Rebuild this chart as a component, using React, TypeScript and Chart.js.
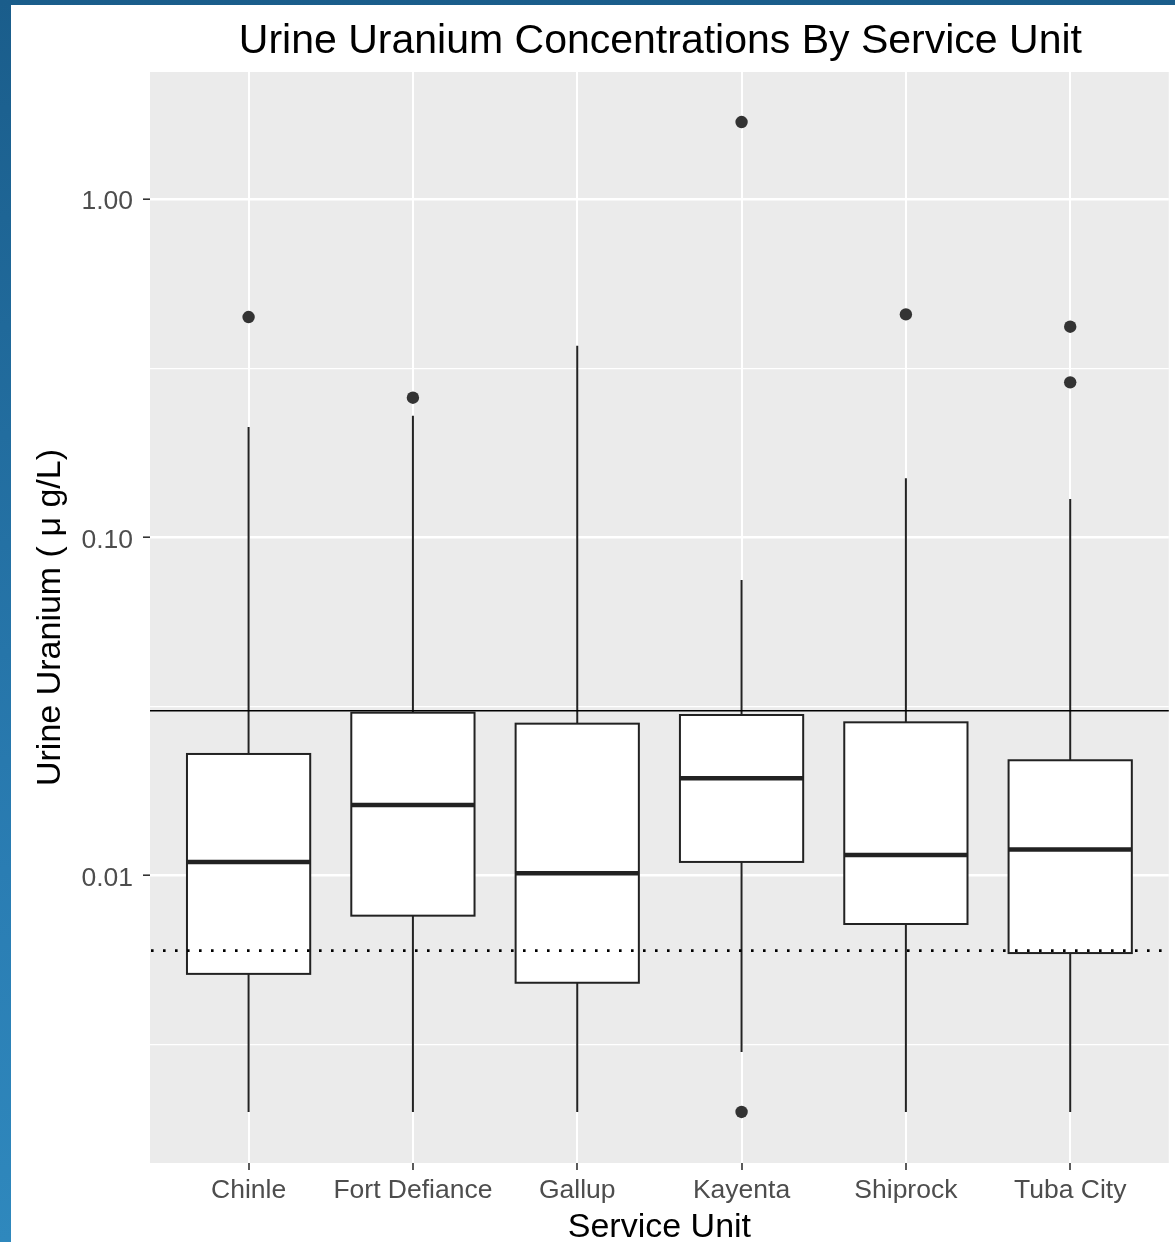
import React, { useEffect, useRef } from "react";
import { Chart, registerables } from "chart.js";

Chart.register(...registerables);

// ---- data ----
const categories = ["Chinle", "Fort Defiance", "Gallup", "Kayenta", "Shiprock", "Tuba City"];
const whiskerLow = [0.002, 0.002, 0.002, 0.00301, 0.002, 0.002];
const q1 = [0.00512, 0.00761, 0.00482, 0.01097, 0.00719, 0.0059];
const medians = [0.01097, 0.01617, 0.01016, 0.01939, 0.0115, 0.01193];
const q3 = [0.02288, 0.0303, 0.02812, 0.02983, 0.02838, 0.02192];
const whiskerHigh = [0.2118, 0.2288, 0.3685, 0.0748, 0.1494, 0.1298];
const outliers: number[][] = [[0.448], [0.2586], [], [1.689, 0.002], [0.456], [0.4194, 0.2872]];
const refSolid = 0.0307;
const refDotted = 0.006;

const yMajorTicks = [0.01, 0.1, 1];
const yMajorLabels = ["0.01", "0.10", "1.00"];
const yMinorTicks = [0.00316, 0.0316, 0.316];
const yMin = 0.001413;
const yMax = 2.375;

const title = "Urine Uranium Concentrations By Service Unit";
const xTitle = "Service Unit";
const yTitle = "Urine Uranium ( \u03bc g/L)";

const FONT = '"Liberation Sans", Arial, sans-serif';
const BOX_WIDTH = 0.75;

const outlierPoints = outliers.flatMap((vals, i) => vals.map((v) => ({ x: i + 1, y: v })));

const boxPlugin = {
  id: "boxPlugin",
  beforeDraw(chart: any) {
    const { ctx, chartArea } = chart;
    ctx.save();
    ctx.fillStyle = "#EBEBEB";
    ctx.fillRect(chartArea.left, chartArea.top, chartArea.right - chartArea.left, chartArea.bottom - chartArea.top);
    ctx.restore();
  },
  beforeDatasetsDraw(chart: any) {
    const { ctx, chartArea, scales } = chart;
    const x = scales.x;
    const y = scales.y;
    ctx.save();
    ctx.beginPath();
    ctx.rect(chartArea.left, chartArea.top, chartArea.right - chartArea.left, chartArea.bottom - chartArea.top);
    ctx.clip();
    categories.forEach((_, i) => {
      const cx = x.getPixelForValue(i + 1);
      const l = x.getPixelForValue(i + 1 - BOX_WIDTH / 2);
      const r = x.getPixelForValue(i + 1 + BOX_WIDTH / 2);
      const yq1 = y.getPixelForValue(q1[i]);
      const yq3 = y.getPixelForValue(q3[i]);
      const ymed = y.getPixelForValue(medians[i]);
      const ylo = y.getPixelForValue(whiskerLow[i]);
      const yhi = y.getPixelForValue(whiskerHigh[i]);
      ctx.strokeStyle = "#222";
      ctx.lineWidth = 2;
      ctx.beginPath();
      ctx.moveTo(cx, yq3);
      ctx.lineTo(cx, yhi);
      ctx.moveTo(cx, yq1);
      ctx.lineTo(cx, ylo);
      ctx.stroke();
      ctx.fillStyle = "#FFFFFF";
      ctx.fillRect(l, yq3, r - l, yq1 - yq3);
      ctx.strokeRect(l, yq3, r - l, yq1 - yq3);
      ctx.lineWidth = 4.5;
      ctx.beginPath();
      ctx.moveTo(l, ymed);
      ctx.lineTo(r, ymed);
      ctx.stroke();
    });
    ctx.restore();
  },
  afterDatasetsDraw(chart: any) {
    const { ctx, chartArea, scales } = chart;
    const y = scales.y;
    ctx.save();
    ctx.strokeStyle = "#000";
    ctx.lineWidth = 1.6;
    const ys = y.getPixelForValue(refSolid);
    ctx.beginPath();
    ctx.moveTo(chartArea.left, ys);
    ctx.lineTo(chartArea.right, ys);
    ctx.stroke();
    const yd = y.getPixelForValue(refDotted);
    ctx.lineWidth = 2.6;
    ctx.setLineDash([2.6, 9.4]);
    ctx.beginPath();
    ctx.moveTo(chartArea.left + 1, yd);
    ctx.lineTo(chartArea.right, yd);
    ctx.stroke();
    ctx.restore();
  },
  afterDraw(chart: any) {
    const { ctx, chartArea } = chart;
    ctx.save();
    ctx.fillStyle = "#000";
    ctx.font = `41px ${FONT}`;
    ctx.textAlign = "center";
    ctx.textBaseline = "alphabetic";
    ctx.fillText(title, (chartArea.left + chartArea.right) / 2 + 1, 48);
    ctx.restore();
  },
};

export default function App() {
  const ref = useRef<HTMLCanvasElement | null>(null);
  useEffect(() => {
    if (!ref.current) return;
    const isMajor = (v: number) => yMajorTicks.some((t) => Math.abs(t - v) / t < 1e-6);
    const chart = new Chart(ref.current, {
      type: "scatter",
      data: {
        datasets: [
          {
            data: outlierPoints,
            pointRadius: 6.2,
            pointBackgroundColor: "#333333",
            pointBorderWidth: 0,
            pointBorderColor: "#333333",
          } as any,
        ],
      },
      options: {
        animation: false,
        responsive: false,
        events: [],
        layout: { padding: { top: 67, right: 6, bottom: 0, left: 0 } },
        plugins: { legend: { display: false }, tooltip: { enabled: false }, title: { display: false } },
        scales: {
          x: {
            type: "linear",
            min: 0.4,
            max: 6.6,
            afterBuildTicks: (axis: any) => {
              axis.ticks = categories.map((_, i) => ({ value: i + 1 }));
            },
            afterFit: (s: any) => {
              s.height = 79;
            },
            ticks: {
              autoSkip: false,
              maxRotation: 0,
              minRotation: 0,
              padding: 5,
              color: "#4D4D4D",
              font: { family: FONT, size: 26.5 },
              callback: (v: any) => categories[Math.round(Number(v)) - 1] ?? "",
            },
            grid: {
              color: "#FFFFFF",
              lineWidth: 2,
              tickColor: "#333333",
              tickLength: 7,
              tickWidth: 1.6,
            },
            border: { display: false },
            title: {
              display: true,
              text: xTitle,
              color: "#000",
              font: { family: FONT, size: 34, lineHeight: 1 },
              padding: { top: 0, bottom: -3 },
            },
          },
          y: {
            type: "logarithmic",
            min: yMin,
            max: yMax,
            afterBuildTicks: (axis: any) => {
              axis.ticks = [...yMinorTicks, ...yMajorTicks].sort((a, b) => a - b).map((v) => ({ value: v }));
            },
            afterFit: (s: any) => {
              s.width = 139;
            },
            ticks: {
              autoSkip: false,
              padding: 10,
              labelOffset: 3,
              color: "#4D4D4D",
              font: { family: FONT, size: 26.5 },
              callback: (v: any) => {
                const idx = yMajorTicks.findIndex((t) => Math.abs(t - Number(v)) / t < 1e-6);
                return idx >= 0 ? yMajorLabels[idx] : "";
              },
            },
            grid: {
              color: "#FFFFFF",
              lineWidth: (c: any) => (c.tick && isMajor(c.tick.value) ? 2.4 : 1.2),
              tickColor: (c: any) => (c.tick && isMajor(c.tick.value) ? "#333333" : "rgba(0,0,0,0)"),
              tickLength: 7,
              tickWidth: 1.6,
            },
            border: { display: false },
            title: {
              display: true,
              text: yTitle,
              color: "#000",
              font: { family: FONT, size: 34 },
              padding: { top: 19, bottom: 0 },
            },
          },
        },
      },
      plugins: [boxPlugin],
    } as any);
    return () => chart.destroy();
  }, []);

  return (
    <div
      style={{
        position: "fixed",
        left: 0,
        top: 0,
        width: 1175,
        height: 1242,
        background: "linear-gradient(to bottom, #1a5d8b 0%, #2a7db3 70%, #2f88bd 100%)",
        overflow: "hidden",
      }}
    >
      <div style={{ position: "absolute", left: 11, top: 5, width: 1164, height: 1237, background: "#FFFFFF" }}>
        <canvas ref={ref} width={1164} height={1237} style={{ display: "block", width: 1164, height: 1237 }} />
      </div>
    </div>
  );
}
